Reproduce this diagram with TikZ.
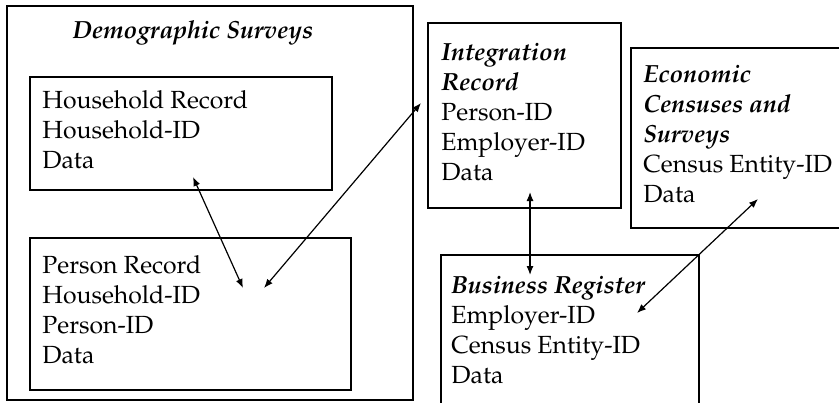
\documentclass[tikz,border=0pt]{standalone}
\usepackage[T1]{fontenc}
\usepackage{mathpazo}
\usepackage{tikz}
\usetikzlibrary{arrows,arrows.meta}

\tikzset{
	recbox/.style={draw,line width=0.6pt,inner sep=0pt},
	rectext/.style={anchor=base west,align=left,inner sep=0pt,font=\fontsize{12.4}{15}\selectfont}
}

\begin{document}
\begin{tikzpicture}[x=0.5pt,y=-0.5pt]
		\useasboundingbox (0,0) rectangle (839,402);
		% boxes
		\node[recbox,minimum width=203pt,minimum height=197pt] (dem) at (210,203) {};
		\node[recbox,minimum width=151pt,minimum height=56.5pt] (hh) at (181,133.5) {};
		\node[recbox,minimum width=160.5pt,minimum height=76pt] (per) at (190.5,314) {};
		\node[recbox,minimum width=96.5pt,minimum height=92.5pt] (integ) at (524.5,115.5) {};
		\node[recbox,minimum width=107pt,minimum height=90pt] (econ) at (738,138) {};
		\node[recbox,minimum width=129pt,minimum height=77.5pt] (bus) at (570,332.5) {};
		% texts, placed at the baseline of their last line
		\node[rectext,anchor=base] (demtitle) at (193,38) {\textbf{\textit{Demographic Surveys}}};
		\node[rectext] (hhtext) at (42,168) {Household Record\\Household-ID\\Data};
		\node[rectext] (pertext) at (42,363) {Person Record\\Household-ID\\Person-ID\\Data};
		\node[rectext] (integtext) at (441,180) {\textbf{\textit{Integration}}\\\textbf{\textit{Record}}\\Person-ID\\Employer-ID\\Data};
		\node[rectext] (econtext) at (643,202) {\textbf{\textit{Economic}}\\\textbf{\textit{Censuses and}}\\\textbf{\textit{Surveys}}\\Census Entity-ID\\Data};
		\node[rectext] (bustext) at (451,383) {\textbf{\textit{Business Register}}\\Employer-ID\\Census Entity-ID\\Data};
		%
		\coordinate (hhend) at (193,177);
		\coordinate (perend) at (243,288);
		\coordinate (perlink) at (264,288);
		\coordinate (integlink) at (421,103);
		\coordinate (integend) at (530,192);
		\coordinate (busend) at (530,275);
		\coordinate (econend) at (758,199);
		\coordinate (buslink) at (637,313);
		%
		\path[<->,line width=0.6pt,>={Latex[length=4.5pt,width=3.5pt]}]
		(hhend) edge (perend)
		(perlink) edge (integlink)
		(integend) edge (busend)
		(econend) edge (buslink);
	\end{tikzpicture}
\end{document}
